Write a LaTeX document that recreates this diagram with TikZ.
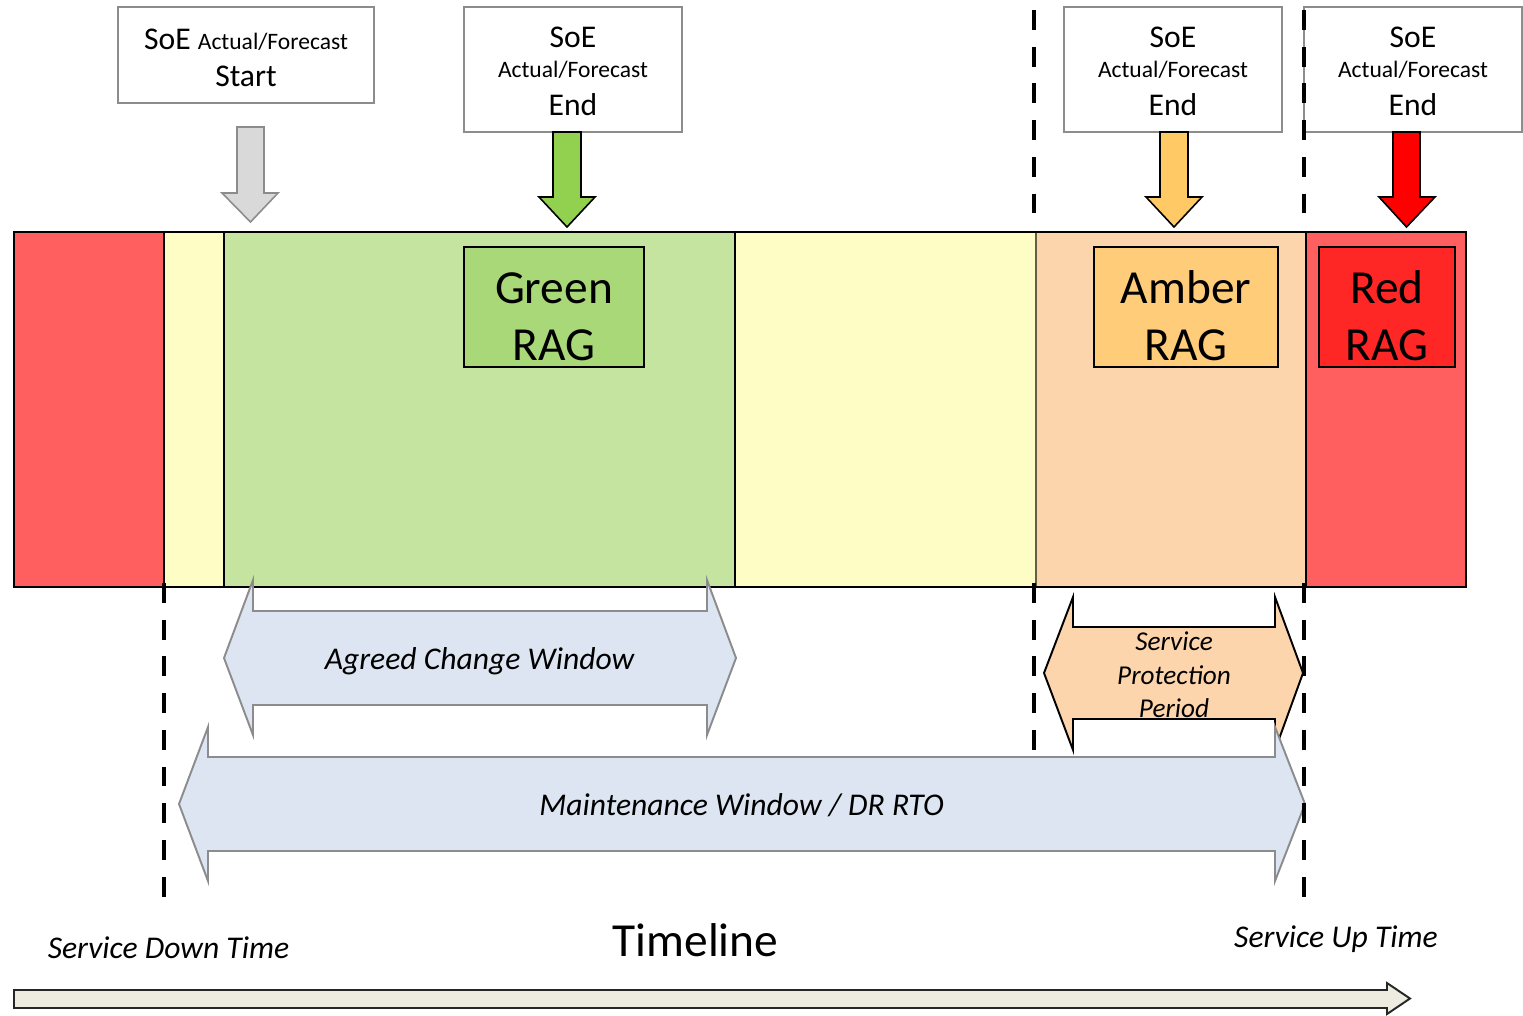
\documentclass[tikz,border=0pt]{standalone}
\usepackage{fontspec}
\setmainfont{Carlito}
\definecolor{cRed}{HTML}{FF5F5F}
\definecolor{cYel}{HTML}{FFFDC6}
\definecolor{cGrn}{HTML}{C5E4A0}
\definecolor{cPch}{HTML}{FDD5AC}
\definecolor{cGrnBox}{HTML}{A9D878}
\definecolor{cAmbBox}{HTML}{FFCC7A}
\definecolor{cRedBox}{HTML}{FF2626}
\definecolor{cGrnArr}{HTML}{92D050}
\definecolor{cAmbArr}{HTML}{FFC966}
\definecolor{cRedArr}{HTML}{FF0000}
\definecolor{cGryArr}{HTML}{D9D9D9}
\definecolor{cBlue}{HTML}{DCE5F1}
\definecolor{cEdge}{HTML}{8C8C8C}
\definecolor{cTime}{HTML}{EEECE1}
\begin{document}
\begin{tikzpicture}[x=0.02cm,y=-0.02cm,line join=miter,
  topbox/.style={draw=cEdge,line width=1.2pt,fill=white,inner sep=0pt,outer sep=0pt},
  ragbox/.style={draw=black,line width=1.1pt,inner sep=0pt,outer sep=0pt},
  seg/.style={line width=1.1pt},
  blockarr/.style={draw=black,line width=0.9pt},
  grayarr/.style={draw=cEdge,line width=0.9pt},
  bluearr/.style={draw=cEdge,fill=cBlue,line width=1.1pt},
  cutline/.style={line width=2.8pt,dash pattern=on 11.3pt off 9.6pt},
  txt/.style={anchor=base,inner sep=0pt},
  small/.style={font=\fontsize{13.4}{16}\selectfont},
  mid/.style={font=\fontsize{18}{21}\selectfont},
  midit/.style={font=\fontsize{18}{21}\selectfont\itshape},
  sppit/.style={font=\fontsize{15.5}{19}\selectfont\itshape},
  big/.style={font=\fontsize{27}{32}\selectfont}]
\useasboundingbox (0,0) rectangle (1523,1015);

% ---- main bar segments
\fill[cRed] (14,232) rectangle (164,587);
\fill[cYel] (164,232) rectangle (224,587);
\fill[cGrn] (224,232) rectangle (735,587);
\fill[cYel] (735,232) rectangle (1036,587);
\fill[cPch] (1036,232) rectangle (1306,587);
\fill[cRed] (1306,232) rectangle (1466,587);
\draw[seg] (164,232) -- (164,587);
\draw[seg] (224,232) -- (224,587);
\draw[seg] (735,232) -- (735,587);
\draw[line width=0.6pt,black!70!yellow] (1036,232) -- (1036,587);
\draw[seg] (1306,232) -- (1306,587);
\draw[seg] (14,232) rectangle (1466,587);

% ---- RAG boxes
\node[ragbox,fill=cGrnBox,minimum width=3.6cm,minimum height=2.4cm] (gRAG) at (554,307) {};
\node[ragbox,fill=cAmbBox,minimum width=3.68cm,minimum height=2.4cm] (aRAG) at (1186,307) {};
\node[ragbox,fill=cRedBox,minimum width=2.72cm,minimum height=2.4cm] (rRAG) at (1387,307) {};
\node[txt,big] (gRAG1) at (554,303) {Green};
\node[txt,big] (gRAG2) at (554,360) {RAG};
\node[txt,big] (aRAG1) at (1186,303) {Amber};
\node[txt,big] (aRAG2) at (1186,360) {RAG};
\node[txt,big] (rRAG1) at (1387,303) {Red};
\node[txt,big] (rRAG2) at (1387,360) {RAG};

% ---- top boxes
\node[topbox,minimum width=5.12cm,minimum height=1.92cm] (sBox) at (246,55) {};
\node[txt,mid] (sBox1) at (246,49) {SoE {\fontsize{13.4}{16}\selectfont Actual/Forecast}};
\node[txt,mid] (sBox2) at (246,86) {Start};

\node[topbox,minimum width=4.36cm,minimum height=2.5cm] (gBox) at (573,69.5) {};
\node[txt,mid] (gBox1) at (573,47) {SoE};
\node[txt,small] (gBox2) at (573,77) {Actual/Forecast};
\node[txt,mid] (gBox3) at (573,115) {End};

\node[topbox,minimum width=4.36cm,minimum height=2.5cm] (aBox) at (1173,69.5) {};
\node[txt,mid] (aBox1) at (1173,47) {SoE};
\node[txt,small] (aBox2) at (1173,77) {Actual/Forecast};
\node[txt,mid] (aBox3) at (1173,115) {End};

\node[topbox,minimum width=4.36cm,minimum height=2.5cm] (rBox) at (1413,69.5) {};
\node[txt,mid] (rBox1) at (1413,47) {SoE};
\node[txt,small] (rBox2) at (1413,77) {Actual/Forecast};
\node[txt,mid] (rBox3) at (1413,115) {End};

% ---- down block arrows
\draw[grayarr,fill=cGryArr] (237,127) -- (264,127) -- (264,193) -- (278,193) -- (250.5,222) -- (222,193) -- (237,193) -- cycle;
\draw[blockarr,fill=cGrnArr] (553,132) -- (581,132) -- (581,197) -- (595,197) -- (567,227) -- (539,197) -- (553,197) -- cycle;
\draw[blockarr,fill=cAmbArr] (1160,132) -- (1188,132) -- (1188,197) -- (1202,197) -- (1174,227) -- (1146,197) -- (1160,197) -- cycle;
\draw[blockarr,fill=cRedArr] (1393,132) -- (1420,132) -- (1420,197) -- (1435,197) -- (1406.5,227) -- (1379,197) -- (1393,197) -- cycle;

% ---- double arrows
\draw[bluearr] (224,658) -- (253,580) -- (253,611) -- (707,611) -- (707,580) -- (736,658) -- (707,735) -- (707,705) -- (253,705) -- (253,735) -- cycle;
\draw[draw=black,fill=cPch,line width=1.1pt] (1044,673) -- (1073,597) -- (1073,627) -- (1275,627) -- (1275,597) -- (1303,673) -- (1275,750) -- (1275,719) -- (1073,719) -- (1073,750) -- cycle;
\draw[bluearr] (179,804) -- (208,727) -- (208,757) -- (1275,757) -- (1275,727) -- (1305,804) -- (1275,881) -- (1275,851) -- (208,851) -- (208,881) -- cycle;

\node[txt,midit] (acw) at (479.5,669) {Agreed Change Window};
\node[txt,midit] (mw) at (741.5,815) {Maintenance Window / DR RTO};
\node[txt,sppit] (spp1) at (1174,650) {Service};
\node[txt,sppit] (spp2) at (1174,684) {Protection};
\node[txt,sppit] (spp3) at (1174,717) {Period};

% ---- dashed lines
\draw[cutline] (164,583) -- (164,900);
\draw[cutline] (1034,10) -- (1034,222);
\draw[cutline] (1034,583) -- (1034,750);
\draw[cutline] (1304,10) -- (1304,222);
\draw[cutline] (1304,583) -- (1304,900);

% ---- timeline
\draw[draw=black!85,fill=cTime,line width=1.1pt] (14,990) -- (1387,990) -- (1387,983) -- (1410,998.5) -- (1387,1014) -- (1387,1008) -- (14,1008) -- cycle;
\node[txt,midit] (sdt) at (168.5,958) {Service Down Time};
\node[txt,big] (tl) at (695.5,956) {Timeline};
\node[txt,midit] (sut) at (1336,947) {Service Up Time};
\end{tikzpicture}
\end{document}
